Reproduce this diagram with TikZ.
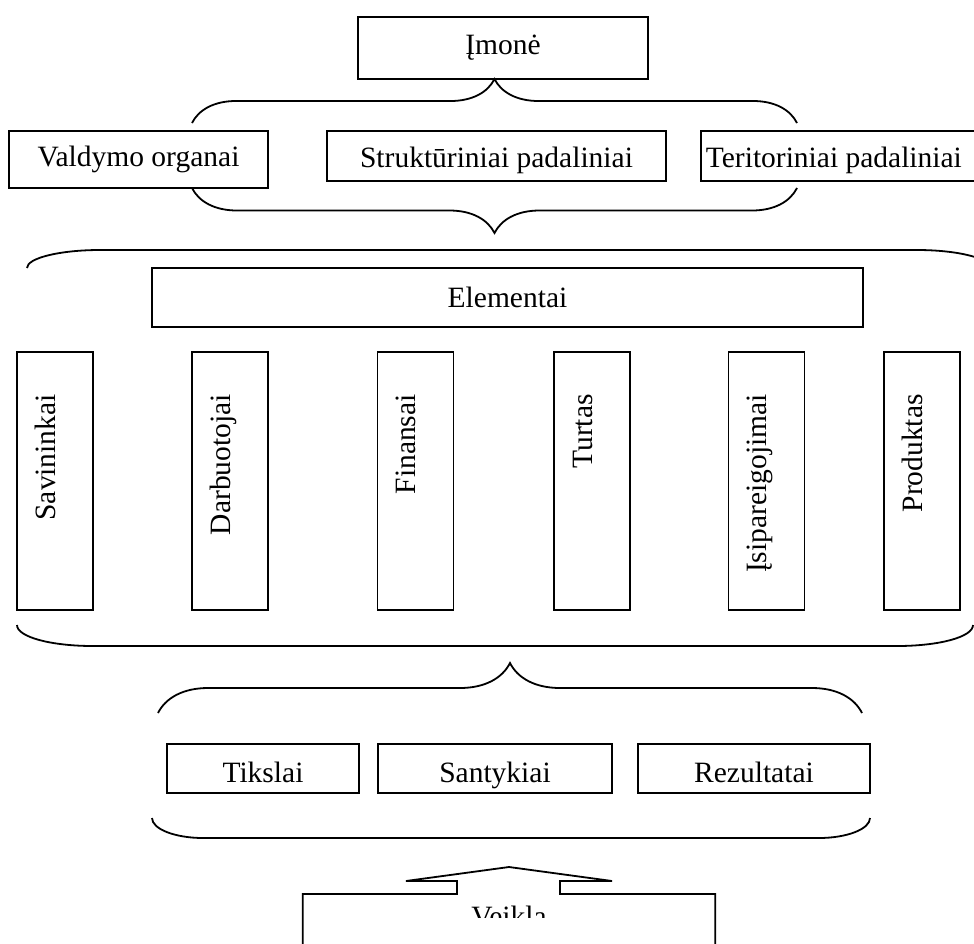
\documentclass[tikz,border=0pt]{standalone}
\usepackage{fontspec}
\setmainfont{Liberation Serif}
\usetikzlibrary{positioning, calc, decorations.pathreplacing}

\begin{document}
\begin{tikzpicture}[
      x=1pt, y=-1pt,
      font=\fontsize{29.5}{35}\selectfont,
      box/.style={rectangle, draw, line width=1.8pt, inner sep=0pt, align=center},
      vbox/.style={box, minimum width=76, minimum height=258},
      vtext/.style={rotate=90, inner sep=0pt, anchor=base east},
      curly/.style={decorate, decoration={brace, amplitude=#1}, line width=1.8pt},
      bracket/.style={line width=1.8pt}
    ]
    \clip (0,0) rectangle (974,943);

    \node[box, minimum width=290, minimum height=62] (imone) at (503,48) {Įmonė};

    \node[box, minimum width=259, minimum height=57] (valdymo) at (138.5,159.5) {Valdymo organai};
    \node[box, minimum width=339, minimum height=50, text height=24pt, text depth=2pt] (strukt) at (496.5,156) {Struktūriniai padaliniai};
    \node[box, anchor=west, minimum width=300, minimum height=50, text height=24pt, text depth=2pt, text width=290, inner xsep=5pt, align=flush left] (terit) at (700,156) {Teritoriniai padaliniai};

    \node[box, minimum width=711, minimum height=59] (elem) at (507.5,297.5) {Elementai};

    \node[vbox] (savin) at (55,481) {};
    \node[vbox] (darb) at (230,481) {};
    \node[vbox] (finan) at (415.5,481) {};
    \node[vbox] (turtas) at (592,481) {};
    \node[vbox] (isip) at (766.5,481) {};
    \node[vbox] (produkt) at (922,481) {};
    \node[vtext] (savintxt) at ($(savin.north west)+(39,43)$) {Savininkai};
    \node[vtext] (darbtxt) at ($(darb.north west)+(39,43)$) {Darbuotojai};
    \node[vtext] (finantxt) at ($(finan.north west)+(39,43)$) {Finansai};
    \node[vtext] (turtastxt) at ($(turtas.north west)+(39,43)$) {Turtas};
    \node[vtext] (isiptxt) at ($(isip.north west)+(39,43)$) {Įsipareigojimai};
    \node[vtext] (produkttxt) at ($(produkt.north west)+(39,43)$) {Produktas};

    \node[box, minimum width=192, minimum height=49, text height=28pt, text depth=1pt] (tikslai) at (263,768.5) {Tikslai};
    \node[box, minimum width=234, minimum height=49, text height=28pt, text depth=1pt] (santyk) at (495,768.5) {Santykiai};
    \node[box, minimum width=232, minimum height=49, text height=28pt, text depth=1pt] (rezult) at (754,768.5) {Rezultatai};

    \node[inner sep=0pt, minimum width=412, minimum height=100, anchor=north] (veikla) at (509,894) {};
    \begin{scope}
      \clip (veikla.north west) rectangle ($(veikla.north east)+(0,23)$);
      \node[inner sep=0pt, anchor=north] (veiklatxt) at ($(veikla.north)+(0,12)$) {Veikla};
    \end{scope}
    \coordinate (tip) at (509,867);
    \draw[line width=1.8pt] (veikla.south west) -- (veikla.north west) -- ($(veikla.north)+(-52,0)$) -- ++(0,-13) -- ++(-51,0) -- (tip)
      -- ($(veikla.north)+(103,-13)$) -- ++(-52,0) -- ++(0,13) -- (veikla.north east) -- (veikla.south east);

    \coordinate (b1l) at (192,123);
    \coordinate (b1r) at (797,123);
    \coordinate (b2l) at (192,188);
    \coordinate (b2r) at (797,188);
    \coordinate (b3l) at (27,268);
    \coordinate (b3r) at (990,268);
    \coordinate (b4l) at (17,625);
    \coordinate (b4r) at (973,625);
    \coordinate (b5l) at (158,713);
    \coordinate (b5r) at (862,713);
    \coordinate (b6l) at (152,818);
    \coordinate (b6r) at (870,818);

    \draw[curly=44pt] (b1l) -- (b1r);
    \draw[curly=45pt] (b2r) -- (b2l);
    \draw[bracket] (b3l) .. controls ($(b3l)+(0,-10)$) and ($(b3l)+(33,-18)$) .. ($(b3l)+(73,-18)$) -- ($(b3r)+(-73,-18)$)
      .. controls ($(b3r)+(-33,-18)$) and ($(b3r)+(0,-10)$) .. (b3r);
    \draw[bracket] (b4l) .. controls ($(b4l)+(0,12)$) and ($(b4l)+(34,21)$) .. ($(b4l)+(76,21)$) -- ($(b4r)+(-76,21)$)
      .. controls ($(b4r)+(-34,21)$) and ($(b4r)+(0,12)$) .. (b4r);
    \draw[curly=50pt] (b5l) -- (b5r);
    \draw[bracket] (b6l) .. controls ($(b6l)+(0,11)$) and ($(b6l)+(23,20)$) .. ($(b6l)+(51,20)$) -- ($(b6r)+(-51,20)$)
      .. controls ($(b6r)+(-23,20)$) and ($(b6r)+(0,11)$) .. (b6r);
  \end{tikzpicture}
\end{document}
